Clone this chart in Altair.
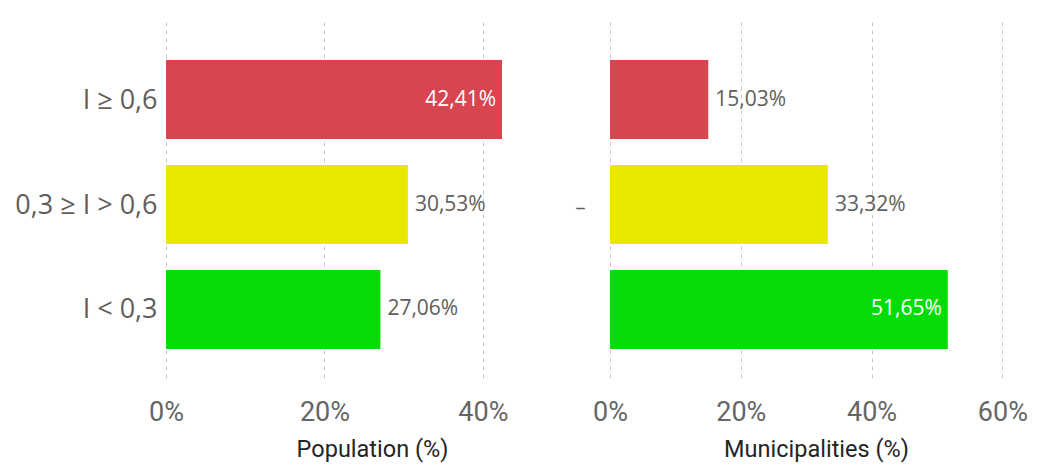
import altair as alt
import pandas as pd

categories = ["I ≥ 0,6", "0,3 ≥ I > 0,6", "I < 0,3"]
colors = ["#D8444F", "#EBE800", "#05DC05"]
population = [42.41, 30.53, 27.06]
municipalities = [15.03, 33.32, 51.65]
pop_labels = ["42,41%", "30,53%", "27,06%"]
mun_labels = ["15,03%", "33,32%", "51,65%"]

def make_df(values, labels):
    mx = max(values)
    return pd.DataFrame({
        "cat": categories,
        "val": values,
        "label": labels,
        "color": colors,
        "inside": [v == mx for v in values],
    })

LABEL_FONT = "Open Sans"
TICK_FONT = "Roboto"

def panel(values, labels, xmax, ticks, title, left):
    df = make_df(values, labels)
    if left:
        yaxis = alt.Axis(title=None, labelFont=LABEL_FONT, labelFontSize=27,
                         labelColor="#605E5C", ticks=False, domain=False,
                         labelPadding=9, labelOffset=1, minExtent=153, maxExtent=153)
    else:
        yaxis = alt.Axis(title=None, labelFont=LABEL_FONT, labelFontSize=20,
                         labelColor="#605E5C", ticks=False, domain=False,
                         labelPadding=25, minExtent=32, maxExtent=32,
                         labelBaseline="middle", labelOffset=3,
                         labelExpr="datum.value == '0,3 ≥ I > 0,6' ? '–' : ''")
    y = alt.Y("cat:N", sort=categories, axis=yaxis,
              scale=alt.Scale(paddingInner=0.248, paddingOuter=0.33, align=0.58))
    x = alt.X("val:Q", scale=alt.Scale(domain=[0, xmax], nice=False),
              axis=alt.Axis(values=ticks, labelExpr="datum.value + '%'",
                            labelFont=TICK_FONT, labelFontSize=27, labelFlush=False,
                            labelColor="#666666", ticks=False, domain=False,
                            grid=True, gridDash=[4, 4], gridColor="#C8C8C8",
                            labelPadding=21, title=title, titleFont=TICK_FONT,
                            titleFontSize=23.5, titleFontWeight="normal",
                            titleColor="#252423", titlePadding=12))
    base = alt.Chart(df).encode(y=y, x=x)
    bars = base.mark_bar(size=79).encode(color=alt.Color("color:N", scale=None))
    inside = base.transform_filter("datum.inside").mark_text(
        align="right", dx=-6, font=LABEL_FONT, fontSize=21, color="white"
    ).encode(text="label:N")
    outside = base.transform_filter("!datum.inside").mark_text(
        align="left", dx=7, font=LABEL_FONT, fontSize=21, color="#605E5C"
    ).encode(text="label:N")
    return (bars + inside + outside).properties(width=412, height=358)

left = panel(population, pop_labels, 52, [0, 20, 40], "Population (%)", True)
right = panel(municipalities, mun_labels, 63, [0, 20, 40, 60], "Municipalities (%)", False)

chart = alt.hconcat(left, right, spacing=32, bounds="flush").properties(
    padding={"left": 5, "top": 12, "right": 5, "bottom": 5}
).configure_view(stroke=None)

chart.save("out.html", embed_options={"renderer": "svg", "actions": False})
